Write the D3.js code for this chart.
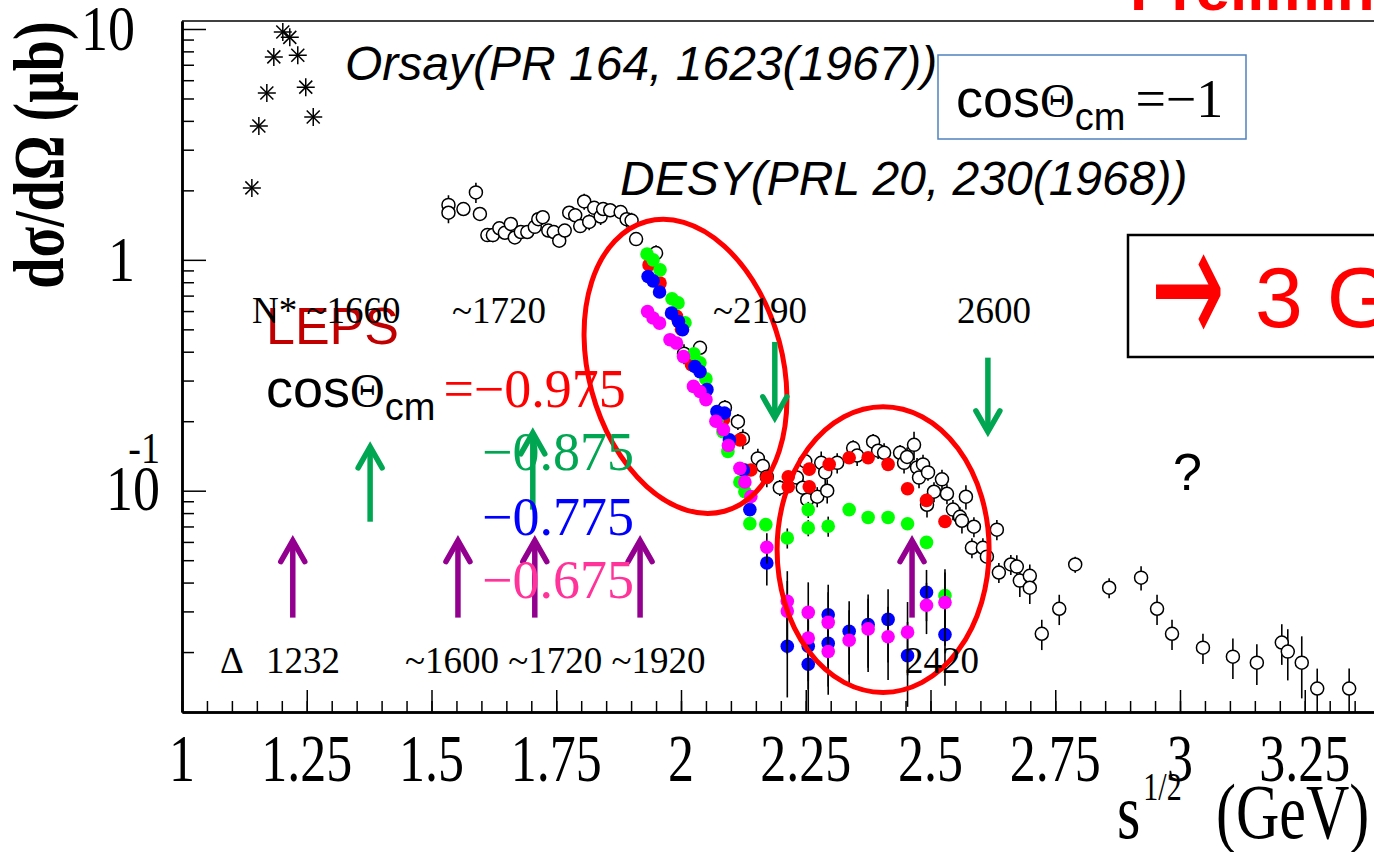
<!DOCTYPE html>
<html>
<head>
<meta charset="utf-8">
<script src="https://cdn.jsdelivr.net/npm/d3@7"></script>
<style>
  html, body { margin: 0; padding: 0; background: #fff; overflow: hidden; }
  svg { display: block; }
  .serif { font-family: 'Liberation Serif', 'Times New Roman', serif; }
  .sans { font-family: 'Liberation Sans', Arial, sans-serif; }
</style>
</head>
<body>
<div id="chart"></div>
<script>
// Orsay (PR 164, 1623 (1967)) : [sqrt(s) GeV, dsigma/dOmega ub]
const orsay = [
  [1.140, 2.05], [1.154, 3.8], [1.170, 5.28], [1.184, 7.57], [1.202, 9.7],
  [1.216, 9.2], [1.232, 7.7], [1.248, 5.6], [1.263, 4.16]
]

// DESY (PRL 20, 230 (1968)) : [sqrt(s), dsigma/dOmega, relative error]
const desy = [
  [1.534, 1.73, 0.10], [1.534, 1.60, 0.10], [1.564, 1.66, 0.05], [1.589, 1.96, 0.10], [1.597, 1.58, 0.06],
  [1.612, 1.28, 0.05], [1.623, 1.28, 0.07], [1.636, 1.37, 0.06], [1.647, 1.31, 0.05], [1.659, 1.43, 0.06],
  [1.667, 1.25, 0.05], [1.679, 1.32, 0.05], [1.692, 1.32, 0.05], [1.707, 1.39, 0.05], [1.714, 1.50, 0.06],
  [1.723, 1.53, 0.05], [1.734, 1.34, 0.05], [1.745, 1.32, 0.05], [1.756, 1.21, 0.05], [1.767, 1.34, 0.06],
  [1.776, 1.60, 0.05], [1.788, 1.56, 0.05], [1.798, 1.40, 0.05], [1.806, 1.79, 0.08], [1.816, 1.46, 0.08],
  [1.826, 1.68, 0.05], [1.839, 1.54, 0.08], [1.844, 1.66, 0.05], [1.858, 1.64, 0.06], [1.879, 1.61, 0.05],
  [1.891, 1.50, 0.08], [1.901, 1.48, 0.08], [1.910, 1.23, 0.05], [1.950, 1.07, 0.08], [2.006, 0.392, 0.10],
  [2.038, 0.416, 0.06], [2.088, 0.229, 0.08], [2.114, 0.199, 0.08], [2.124, 0.168, 0.10], [2.154, 0.138, 0.10],
  [2.164, 0.128, 0.10], [2.172, 0.115, 0.10], [2.198, 0.103, 0.08], [2.232, 0.114, 0.10], [2.244, 0.103, 0.12],
  [2.253, 0.0914, 0.12], [2.249, 0.134, 0.10], [2.273, 0.0942, 0.10], [2.281, 0.132, 0.12], [2.289, 0.120, 0.12],
  [2.293, 0.100, 0.12], [2.313, 0.132, 0.10], [2.345, 0.153, 0.08], [2.353, 0.142, 0.10], [2.385, 0.163, 0.08],
  [2.395, 0.149, 0.08], [2.407, 0.146, 0.10], [2.439, 0.146, 0.08], [2.447, 0.132, 0.10], [2.453, 0.140, 0.10],
  [2.467, 0.158, 0.14], [2.473, 0.126, 0.10], [2.477, 0.114, 0.10], [2.485, 0.130, 0.10], [2.495, 0.120, 0.08],
  [2.493, 0.0869, 0.12], [2.507, 0.099, 0.10], [2.523, 0.112, 0.10], [2.533, 0.097, 0.10], [2.545, 0.0828, 0.10],
  [2.559, 0.0771, 0.10], [2.563, 0.0741, 0.12], [2.571, 0.0942, 0.12], [2.583, 0.0566, 0.10], [2.587, 0.0698, 0.10],
  [2.605, 0.0566, 0.10], [2.613, 0.0518, 0.12], [2.633, 0.0678, 0.10], [2.637, 0.0442, 0.10], [2.661, 0.0479, 0.10],
  [2.673, 0.0469, 0.12], [2.679, 0.0408, 0.15], [2.699, 0.0428, 0.12], [2.699, 0.0380, 0.15], [2.723, 0.0240, 0.15],
  [2.758, 0.0308, 0.15], [2.790, 0.0479, 0.08], [2.858, 0.0380, 0.10], [2.922, 0.0420, 0.12], [2.954, 0.0308, 0.15],
  [2.984, 0.0240, 0.15], [3.046, 0.0209, 0.15], [3.106, 0.0191, 0.20], [3.154, 0.0180, 0.20], [3.204, 0.0220, 0.20],
  [3.216, 0.0201, 0.25], [3.244, 0.0180, 0.30], [3.275, 0.0139, 0.22], [3.339, 0.0139, 0.22]
]

// LEPS, four cos(theta_cm) bins : [sqrt(s), dsigma/dOmega, relative error]
const lepsM0975 = [
  [1.936, 0.951, 0.04], [1.958, 0.793, 0.04], [1.991, 0.569, 0.04], [2.001, 0.501, 0.04], [2.021, 0.351, 0.04],
  [2.085, 0.203, 0.04], [2.118, 0.166, 0.05], [2.128, 0.123, 0.05], [2.140, 0.123, 0.05], [2.172, 0.114, 0.05],
  [2.215, 0.115, 0.06], [2.215, 0.104, 0.06], [2.257, 0.124, 0.06], [2.257, 0.104, 0.06], [2.297, 0.130, 0.05],
  [2.337, 0.139, 0.05], [2.375, 0.139, 0.05], [2.415, 0.130, 0.05], [2.454, 0.102, 0.05], [2.492, 0.0908, 0.06],
  [2.529, 0.0736, 0.06]
]
const lepsM0875 = [
  [1.932, 1.06, 0.04], [1.944, 1.00, 0.04], [1.958, 0.905, 0.04], [1.982, 0.678, 0.04], [1.994, 0.651, 0.04],
  [2.008, 0.534, 0.04], [2.026, 0.392, 0.04], [2.038, 0.358, 0.04], [2.050, 0.305, 0.04], [2.072, 0.201, 0.04],
  [2.084, 0.180, 0.05], [2.094, 0.148, 0.05], [2.118, 0.109, 0.05], [2.128, 0.099, 0.05], [2.138, 0.072, 0.06],
  [2.170, 0.0713, 0.06], [2.213, 0.0624, 0.10], [2.255, 0.0828, 0.08], [2.255, 0.0690, 0.08], [2.295, 0.0702, 0.10],
  [2.337, 0.0828, 0.06], [2.375, 0.0766, 0.05], [2.415, 0.0766, 0.05], [2.454, 0.0719, 0.05], [2.492, 0.0597, 0.06],
  [2.529, 0.0351, 0.30]
]
const lepsM0775 = [
  [1.934, 0.847, 0.04], [1.944, 0.811, 0.04], [1.957, 0.726, 0.04], [1.981, 0.588, 0.04], [1.995, 0.541, 0.04],
  [2.003, 0.498, 0.04], [2.028, 0.345, 0.04], [2.038, 0.328, 0.04], [2.052, 0.274, 0.04], [2.072, 0.220, 0.05],
  [2.087, 0.217, 0.05], [2.097, 0.166, 0.05], [2.125, 0.123, 0.05], [2.138, 0.0828, 0.06], [2.172, 0.0486, 0.20],
  [2.213, 0.0212, 0.40], [2.255, 0.0212, 0.35], [2.255, 0.0177, 0.40], [2.295, 0.0290, 0.35], [2.295, 0.0218, 0.35],
  [2.337, 0.0246, 0.35], [2.375, 0.0263, 0.35], [2.415, 0.0277, 0.35], [2.454, 0.0193, 0.40], [2.492, 0.0363, 0.25],
  [2.529, 0.0238, 0.40]
]
const lepsM0675 = [
  [1.933, 0.597, 0.04], [1.944, 0.560, 0.04], [1.957, 0.532, 0.04], [1.978, 0.451, 0.04], [1.991, 0.436, 0.04],
  [2.005, 0.381, 0.04], [2.025, 0.283, 0.04], [2.038, 0.269, 0.04], [2.050, 0.248, 0.04], [2.070, 0.200, 0.05],
  [2.085, 0.184, 0.05], [2.095, 0.157, 0.05], [2.118, 0.125, 0.05], [2.128, 0.109, 0.05], [2.140, 0.0944, 0.06],
  [2.172, 0.0569, 0.15], [2.213, 0.0332, 0.35], [2.213, 0.0301, 0.35], [2.255, 0.0297, 0.35], [2.255, 0.0230, 0.35],
  [2.295, 0.0269, 0.35], [2.295, 0.0201, 0.35], [2.337, 0.0225, 0.35], [2.375, 0.0252, 0.35], [2.415, 0.0233, 0.35],
  [2.454, 0.0244, 0.35], [2.492, 0.0319, 0.25], [2.529, 0.0328, 0.35]
]

// resonance arrows : [sqrt(s), tail value, tip value]
const nStarDown = [[2.188, 0.441, 0.207], [2.615, 0.377, 0.180]]
const nStarUp = [[1.377, 0.0734, 0.155], [1.703, 0.0828, 0.178]]
const deltaUp = [[1.222, 0.0282, 0.0608], [1.553, 0.0282, 0.0608], [1.707, 0.0282, 0.0608],
  [1.918, 0.0282, 0.0608], [2.463, 0.0282, 0.0608]]

// highlighted regions : major axis ends [x0, y0, x1, y1]
const regionA = [1.931, 1.466, 2.087, 0.0815]
const regionB = [2.405, 0.231, 2.405, 0.01337]

const xMajor = [1, 1.25, 1.5, 1.75, 2, 2.25, 2.5, 2.75, 3, 3.25, 3.5]
const xLabels = ['1', '1.25', '1.5', '1.75', '2', '2.25', '2.5', '2.75', '3', '3.25', '3.5']
const yMajor = [0.1, 1, 10]

const W = 1374
const H = 852
const x = d3.scaleLinear().domain([1, 3.5]).range([182, 182 + 2.5 * 499])
const y = d3.scaleLog().domain([0.011, 10.83]).range([712, 21])
const plotTop = y.range()[1]
const plotBottom = y.range()[0]

const svg = d3.select('#chart').append('svg').attr('width', W).attr('height', H)

svg.append('clipPath').attr('id', 'plot').append('rect')
  .attr('x', x(1)).attr('y', plotTop).attr('width', x(3.5) - x(1)).attr('height', plotBottom - plotTop)

// frame + axes
svg.append('line').attr('x1', x(1)).attr('x2', x(3.5)).attr('y1', plotTop).attr('y2', plotTop)
  .attr('stroke', '#000').attr('stroke-width', 1.5)

const xMinor = d3.range(1, 3.5001, 0.05)
const gx = svg.append('g').attr('transform', `translate(0,${plotBottom})`)
gx.call(d3.axisBottom(x).tickValues(xMinor).tickSizeInner(-11).tickSizeOuter(0).tickFormat(''))
gx.append('g').call(d3.axisBottom(x).tickValues(xMajor).tickSizeInner(-22).tickSizeOuter(0).tickFormat(''))
gx.selectAll('path.domain').attr('stroke-width', 2.5)
gx.selectAll('line').attr('stroke-width', 1.5)

// x tick labels, tall ROOT-like glyphs
svg.append('g').attr('class', 'serif').selectAll('text').data(xMajor).join('text')
  .attr('transform', d => `translate(${x(d)},781) scale(1,1.3)`)
  .attr('text-anchor', 'middle').attr('font-size', 52).attr('fill', '#000')
  .text((d, i) => xLabels[i])

const yMinor = []
;[0.01, 0.1, 1].forEach(dec => d3.range(2, 10).forEach(k => yMinor.push(dec * k)))
const gy = svg.append('g').attr('transform', `translate(${x(1)},0)`)
gy.call(d3.axisLeft(y).tickValues(yMinor.filter(v => v > 0.011)).tickSizeInner(-12).tickSizeOuter(0).tickFormat(''))
gy.append('g').call(d3.axisLeft(y).tickValues(yMajor).tickSizeInner(-24).tickSizeOuter(0).tickFormat(''))
gy.selectAll('path.domain').attr('stroke-width', 2.5)
gy.selectAll('line').attr('stroke-width', 1.5)

// y tick labels (ROOT style)
const yl = svg.append('g').attr('class', 'serif').attr('fill', '#000').attr('text-anchor', 'end')
function yLabel (px, py, size, str) {
  yl.append('text').attr('transform', `translate(${px},${py}) scale(1,1.18)`).attr('font-size', size).text(str)
}
yLabel(135, y(10) + 21, 54, '10')
yLabel(135, y(1) + 21, 54, '1')
yLabel(160, y(0.1) + 19, 54, '10')
yLabel(160, y(0.1) - 28, 38, '-1')

// axis titles
svg.append('text').attr('class', 'serif').attr('font-size', 56).attr('font-weight', 'bold')
  .attr('transform', 'translate(63,155) rotate(-90) scale(1,1.3)').attr('text-anchor', 'middle')
  .text('dσ/dΩ (μb)')
const xt = svg.append('text').attr('class', 'serif').attr('transform', 'translate(1117,838) scale(1,1.3)')
  .attr('font-size', 60)
xt.append('tspan').text('s')
xt.append('tspan').attr('font-size', 30).attr('dy', -29).attr('dx', 3).text('1/2')
xt.append('tspan').attr('dy', 29).attr('x', 99).text('(GeV)')

// data layer
const plot = svg.append('g').attr('clip-path', 'url(#plot)')

function lo (d) { return Math.max(d[1] * (1 - d[2]), 0.005) }
function hi (d) { return d[1] * (1 + d[2]) }

function errorBars (g, data) {
  g.selectAll(null).data(data).join('line')
    .attr('x1', d => x(d[0])).attr('x2', d => x(d[0]))
    .attr('y1', d => y(hi(d))).attr('y2', d => y(lo(d)))
    .attr('stroke', '#000').attr('stroke-width', 1.6)
}

// Orsay stars
const star = plot.append('g').attr('stroke', '#000').attr('stroke-width', 1.5)
orsay.forEach(d => {
  const cx = x(d[0])
  const cy = y(d[1])
  star.append('line').attr('x1', cx - 9).attr('x2', cx + 9).attr('y1', cy).attr('y2', cy)
  star.append('line').attr('x1', cx).attr('x2', cx).attr('y1', cy - 9).attr('y2', cy + 9)
  star.append('line').attr('x1', cx - 6.5).attr('x2', cx + 6.5).attr('y1', cy - 6.5).attr('y2', cy + 6.5)
  star.append('line').attr('x1', cx - 6.5).attr('x2', cx + 6.5).attr('y1', cy + 6.5).attr('y2', cy - 6.5)
})

// DESY open circles
const gd = plot.append('g')
errorBars(gd, desy)
gd.selectAll('circle').data(desy).join('circle')
  .attr('cx', d => x(d[0])).attr('cy', d => y(d[1])).attr('r', 6.5)
  .attr('fill', '#fff').attr('stroke', '#000').attr('stroke-width', 1.5)

// LEPS filled circles
const lepsSeries = [
  { data: lepsM0975, color: '#ff0000' },
  { data: lepsM0875, color: '#00ff00' },
  { data: lepsM0775, color: '#0000ff' },
  { data: lepsM0675, color: '#ff00ff' }
]
lepsSeries.forEach(s => {
  const g = plot.append('g')
  errorBars(g, s.data)
  g.selectAll('circle').data(s.data).join('circle')
    .attr('cx', d => x(d[0])).attr('cy', d => y(d[1])).attr('r', 6.8).attr('fill', s.color)
})

// red ellipses
function ellipse (r, minor) {
  const x0 = x(r[0]); const y0 = y(r[1]); const x1 = x(r[2]); const y1 = y(r[3])
  const len = Math.hypot(x1 - x0, y1 - y0) / 2
  const ang = Math.atan2(x1 - x0, y1 - y0) * 180 / Math.PI
  svg.append('ellipse')
    .attr('transform', `translate(${(x0 + x1) / 2},${(y0 + y1) / 2}) rotate(${-ang})`)
    .attr('rx', minor).attr('ry', len)
    .attr('fill', 'none').attr('stroke', '#ff0000').attr('stroke-width', 5)
}
ellipse(regionA, 97)
ellipse(regionB, 106)

// arrows
function arrow (d, color) {
  const ax = x(d[0]); const yt = y(d[1]); const yh = y(d[2])
  const dir = yh < yt ? 1 : -1
  const g = svg.append('g').attr('stroke', color).attr('stroke-width', 5.5).attr('fill', 'none')
  g.append('line').attr('x1', ax).attr('x2', ax).attr('y1', yt).attr('y2', yh + dir * 2)
  g.append('path').attr('stroke-linecap', 'round').attr('stroke-linejoin', 'miter')
    .attr('d', `M${ax - 12},${yh + dir * 21}L${ax},${yh}L${ax + 12},${yh + dir * 21}`)
}
nStarDown.forEach(d => arrow(d, '#00a651'))
nStarUp.forEach(d => arrow(d, '#00a651'))
deltaUp.forEach(d => arrow(d, '#93008f'))

// text annotations
function txt (px, py, size, cls, str, color) {
  return svg.append('text').attr('class', cls).attr('x', px).attr('y', py)
    .attr('font-size', size).attr('fill', color || '#000').text(str)
}
txt(345, 80, 48, 'sans', 'Orsay(PR 164, 1623(1967))').attr('font-style', 'italic')
txt(620, 195, 48, 'sans', 'DESY(PRL 20, 230(1968))').attr('font-style', 'italic')

svg.append('rect').attr('x', 938).attr('y', 55).attr('width', 308).attr('height', 84)
  .attr('fill', 'none').attr('stroke', '#4f81bd').attr('stroke-width', 1.5)
const c1 = svg.append('text').attr('x', 956).attr('y', 117)
c1.append('tspan').attr('class', 'sans').attr('font-size', 54).text('cos')
c1.append('tspan').attr('class', 'serif').attr('font-size', 48).text('Θ')
c1.append('tspan').attr('class', 'sans').attr('font-size', 38).attr('dy', 13).text('cm')
c1.append('tspan').attr('class', 'serif').attr('font-size', 54).attr('dy', -13).attr('dx', 10).text('=−1')

txt(1173, 490, 52, 'sans', '?')

svg.append('rect').attr('x', 1128).attr('y', 235).attr('width', 320).attr('height', 122)
  .attr('fill', 'none').attr('stroke', '#000').attr('stroke-width', 2.5)
svg.append('text').attr('transform', 'translate(1151,347) scale(1,2)')
  .attr('font-family', 'DejaVu Sans').attr('font-size', 88).attr('fill', '#ff0000').text('→')
txt(1255, 327, 86, 'sans', '3 GeV', '#ff0000')
txt(1130, 10, 62, 'sans', 'Preliminary', '#ff0000').attr('font-weight', 'bold')

txt(266, 344, 52, 'sans', 'LEPS', '#c00000')
const c2 = svg.append('text').attr('x', 266).attr('y', 407)
c2.append('tspan').attr('class', 'sans').attr('font-size', 54).text('cos')
c2.append('tspan').attr('class', 'serif').attr('font-size', 48).text('Θ')
c2.append('tspan').attr('class', 'sans').attr('font-size', 38).attr('dy', 13).text('cm')
c2.append('tspan').attr('class', 'serif').attr('font-size', 54).attr('dy', -13).attr('dx', 8)
  .attr('fill', '#ff0000').text('=−0.975')
txt(482, 470, 54, 'serif', '−0.875', '#00a651')
txt(482, 535, 54, 'serif', '−0.775', '#0000ff')
txt(482, 598, 54, 'serif', '−0.675', '#ff3399')

// resonance labels
txt(252, 323, 37, 'serif', 'N* ~1660')
txt(452, 323, 37, 'serif', '~1720')
txt(713, 323, 37, 'serif', '~2190')
txt(957, 323, 37, 'serif', '2600')
const dl = txt(220, 673, 37, 'serif', 'Δ')
dl.append('tspan').attr('x', 266).text('1232')
txt(405, 673, 37, 'serif', '~1600 ~1720 ~1920')
txt(905, 673, 37, 'serif', '2420')
</script>
</body>
</html>
